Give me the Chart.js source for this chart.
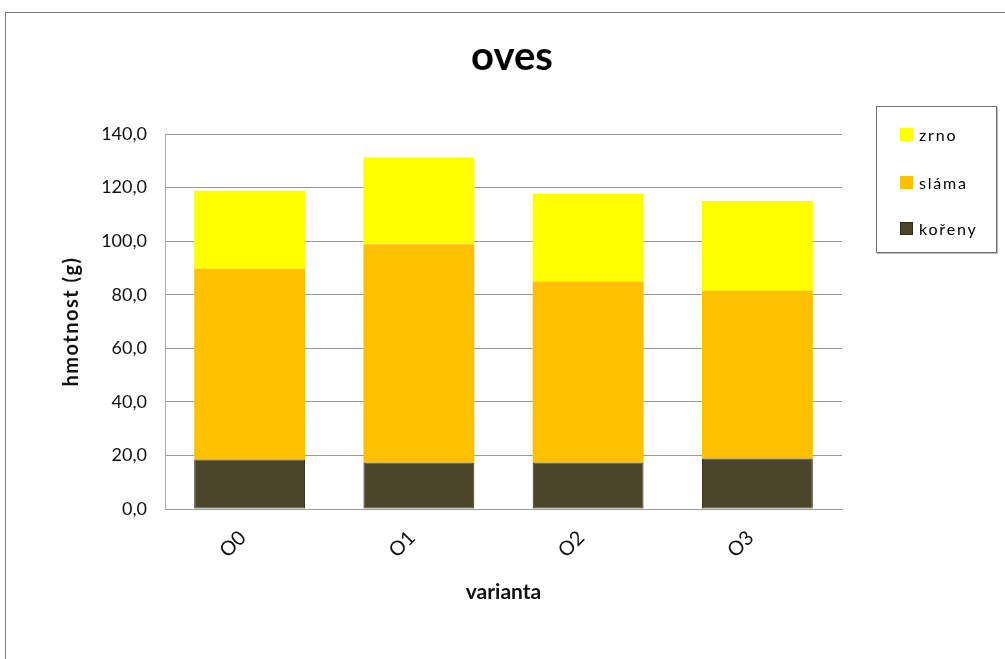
<!DOCTYPE html>
<html>
<head>
<meta charset="utf-8">
<script src="https://cdn.jsdelivr.net/npm/chart.js@4.4.1/dist/chart.umd.min.js"></script>
<style>
  html, body { margin: 0; padding: 0; background: #fff; }
  body { width: 1005px; height: 659px; overflow: hidden; position: relative; font-family: Lato, "Open Sans", sans-serif; }
  #frame { position: absolute; left: 5px; top: 12px; width: 1100px; height: 700px; border-left: 1px solid #7a7a7a; border-top: 1px solid #7a7a7a; box-sizing: border-box; }
  #wrap { position: absolute; left: 0; top: 0; width: 1005px; height: 659px; }
  #legend { position: absolute; left: 876px; top: 106px; width: 121px; height: 147px; box-sizing: border-box; border: 1px solid #6f6f6f; box-shadow: 1px 1px 0 #bbb; background: #fff; }
  .item { position: absolute; left: 23px; height: 18px; display: flex; align-items: center; font-size: 16px; letter-spacing: 1.8px; color: #000; }
  .sw { width: 13px; height: 13px; margin-right: 6px; box-sizing: border-box; }
</style>
</head>
<body>
<div id="frame"></div>
<div id="wrap"><canvas id="c" width="1005" height="659"></canvas></div>
<div id="legend"></div>
<script>
const categories = ["O0", "O1", "O2", "O3"];
const koreny = [18.5, 17.4, 17.4, 18.9];
const slama  = [71.2, 81.4, 67.5, 62.6];
const zrno   = [29.1, 32.4, 32.8, 33.5];
const yTicks = [0, 20, 40, 60, 80, 100, 120, 140];
const seriesNames = ["kořeny", "sláma", "zrno"];
const seriesColors = ["#4A452B", "#FFC000", "#FFFF00"];
const chartTitle = "oves";
const xTitle = "varianta";
const yTitle = "hmotnost (g)";

const datasets = [
  { label: seriesNames[0], data: koreny, backgroundColor: seriesColors[0], borderColor: "#2f2c14", borderWidth: 1 },
  { label: seriesNames[1], data: slama, backgroundColor: seriesColors[1], borderWidth: 0 },
  { label: seriesNames[2], data: zrno, backgroundColor: seriesColors[2], borderWidth: 0 }
].map(d => Object.assign(d, { barPercentage: 0.655, categoryPercentage: 1.0, borderSkipped: false }));

const font = "Lato, 'Open Sans', sans-serif";

const spacingPlugin = {
  id: "ytitleSpacing",
  beforeDraw(chart) {
    const s = chart.scales.y;
    if (s && !s._spaced) {
      const orig = s.drawTitle;
      s.drawTitle = function () {
        const ctx = this.ctx;
        ctx.save();
        ctx.letterSpacing = "1.5px";
        orig.call(this);
        ctx.restore();
      };
      s._spaced = true;
    }
  }
};

new Chart(document.getElementById("c"), {
  type: "bar",
  data: { labels: categories, datasets },
  plugins: [spacingPlugin],
  options: {
    responsive: false,
    animation: false,
    devicePixelRatio: 1,
    layout: { padding: { left: 19, right: 0, top: 0, bottom: 0 } },
    plugins: {
      legend: { display: false },
      tooltip: { enabled: false },
      title: {
        display: true, text: chartTitle, color: "#000",
        font: { family: font, size: 40, weight: "bold" },
        padding: { top: 33, bottom: 53 }
      }
    },
    scales: {
      x: {
        stacked: true,
        grid: { display: false, drawTicks: false },
        border: { display: true, color: "#999", width: 1 },
        ticks: { color: "#111", font: { family: font, size: 20 }, minRotation: 45, maxRotation: 45, padding: 17, labelOffset: -7, autoSkip: false },
        title: { display: true, text: xTitle, color: "#111", font: { family: font, size: 21, weight: "bold" }, padding: { top: 0, bottom: 54 } },
        afterFit: s => { s.height = 150; }
      },
      y: {
        stacked: true,
        min: 0, max: 140,
        afterBuildTicks: s => { s.ticks = yTicks.map(v => ({ value: v })); },
        grid: { color: "#999", lineWidth: 1, drawTicks: false },
        border: { display: true, color: "#aaa", width: 1 },
        ticks: { color: "#111", font: { family: font, size: 18 }, padding: 18,
          callback: v => v.toFixed(1).replace(".", ",") },
        title: { display: true, text: yTitle, color: "#111", font: { family: font, size: 20, weight: "bold" }, padding: { top: 41, bottom: 0 } },
        afterFit: s => { s.width = 146; }
      },
      legendSpace: {
        type: "linear", position: "right", display: true,
        grid: { display: false, drawTicks: false },
        border: { display: false },
        ticks: { display: false },
        afterFit: s => { s.width = 163; }
      }
    }
  }
});

// legend (reverse order, as in the reference)
const legend = document.getElementById("legend");
const legendTops = [18, 66, 112];
[2, 1, 0].forEach((idx, i) => {
  const it = document.createElement("div");
  it.className = "item";
  it.style.top = legendTops[i] + "px";
  const sw = document.createElement("span");
  sw.className = "sw";
  sw.style.background = seriesColors[idx];
  if (idx === 0) sw.style.border = "1px solid #2f2c14";
  const tx = document.createElement("span");
  tx.textContent = seriesNames[idx];
  it.appendChild(sw); it.appendChild(tx);
  legend.appendChild(it);
});
</script>
</body>
</html>
